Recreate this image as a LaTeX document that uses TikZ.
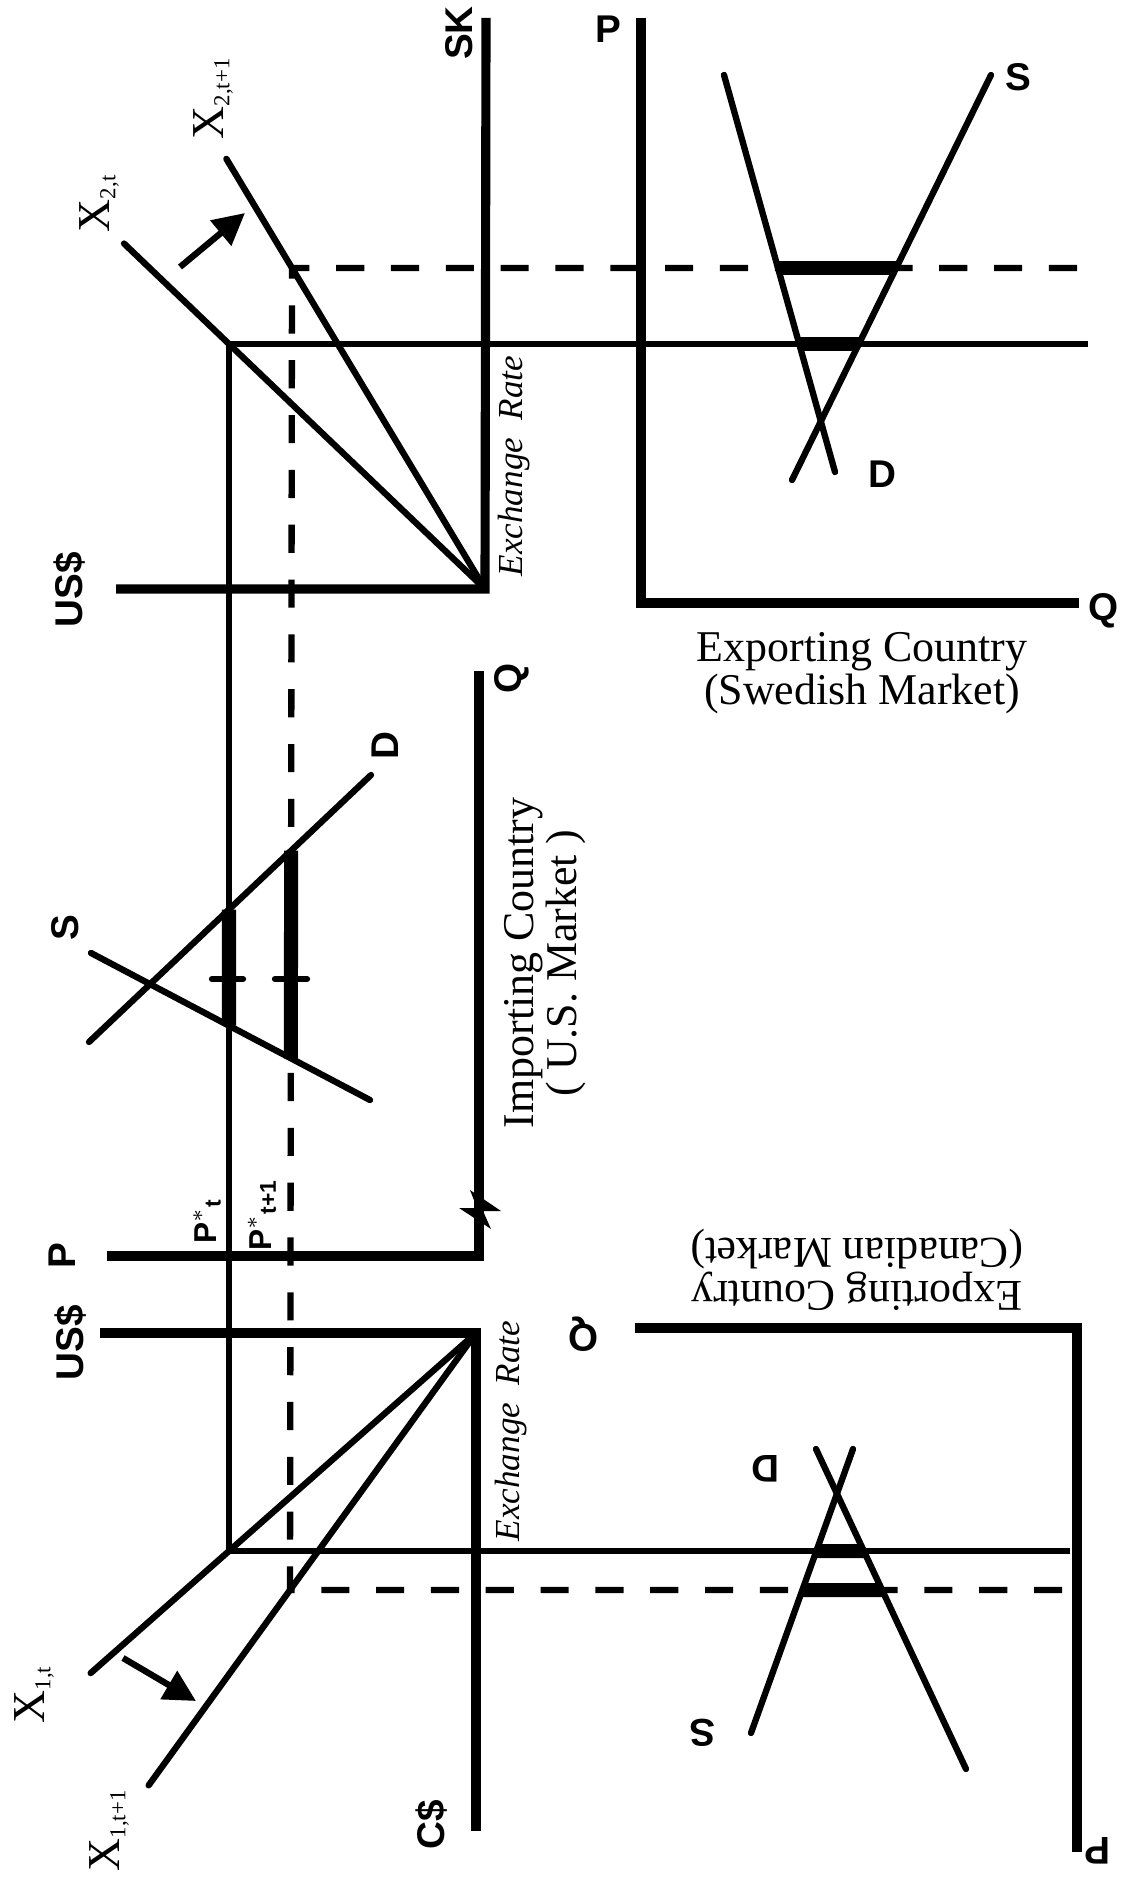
\documentclass[tikz,border=0pt]{standalone}
\usepackage{fontspec}
\setmainfont{Liberation Serif}
\setsansfont{Liberation Sans}
\usepackage{tikz}
\usetikzlibrary{arrows.meta, calc}
\tikzset{
    axis/.style={line width=2.6pt, line join=miter},
    curve/.style={line width=1.8pt, line cap=round},
    arrow/.style={line width=1.8pt, -{Triangle[length=9pt, width=9pt]}}
}
\newcommand{\lowidx}[1]{\textsubscript{\fontsize{6.5}{6.5}\selectfont #1}}

\begin{document}
\begin{tikzpicture}[x=0.1mm, y=-0.1mm,
    price/.style={line width=1.6pt, line join=miter},
    future/.style={line width=1.8pt, dash pattern=on 8pt off 7.6pt},
    gap/.style={line width=4pt},
    lab/.style={font=\sffamily\bfseries\fontsize{11}{11}\selectfont, inner sep=0pt},
    xlab/.style={font=\fontsize{13}{13}\selectfont, inner sep=0pt, rotate=90},
    rate/.style={font=\itshape\fontsize{10}{10}\selectfont, inner sep=0pt, rotate=90},
    title/.style={font=\fontsize{12.5}{11}\selectfont, align=center, inner sep=0pt}]
    \useasboundingbox (0,0) rectangle (1121,1881);

    % Origins of the two exchange rate panels
    \coordinate (oA) at (485,589);
    \coordinate (oB) at (476,1333);

    % Corners of the price lines on the rate lines
    \coordinate (ct) at (229,344);
    \coordinate (cd) at (292,268);
    \coordinate (bt) at (229,1551);
    \coordinate (bd) at (290,1590);

    % Panel 1: exchange rate US$ / SK
    \draw[axis] (486,18) -- (oA) -- (116,589);
    \draw[curve] ($(oA)!1.41!(ct)$) -- (oA);
    \draw[curve] ($(oA)!1.34!(cd)$) -- (oA);
    \node[lab, rotate=90] (usA) at (70,590) {US\$};
    \node[lab, rotate=90] (skA) at (459,33) {SK};
    \node[rate] (erA) at (514,466) {Exchange\ \ Rate};
    \node[xlab] (x2t) at (99,203) {X\lowidx{2,t}};
    \node[xlab] (x2t1) at (213,98) {X\lowidx{2,t+1}};
    \coordinate (a1) at (180,267);
    \coordinate (a2) at (245,213);
    \draw[arrow] (a1) -- (a2);

    % Panel 2: exchange rate US$ / C$
    \draw[axis] (100,1333) -- (oB) -- (476,1831);
    \draw[curve] ($(oB)!1.56!(bt)$) -- (oB);
    \draw[curve] ($(oB)!1.76!(bd)$) -- (oB);
    \node[lab, rotate=90] (usB) at (71,1343) {US\$};
    \node[lab, rotate=90] (cdB) at (432,1825) {C\$};
    \node[rate] (erB) at (511,1431) {Exchange\ \ Rate};
    \node[xlab] (x1t) at (34,1694) {X\lowidx{1,t}};
    \node[xlab] (x1t1) at (109,1830) {X\lowidx{1,t+1}};
    \coordinate (b1) at (123,1658);
    \coordinate (b2) at (196,1701);
    \draw[arrow] (b1) -- (b2);

    % Price lines P*_t and P*_{t+1}
    \draw[price] (1088,344) -- (ct) -- (bt) -- (1070,1551);
    \draw[future] (1077,268) -- (cd) -- (bd) -- (1070,1590);

    % Importing country (U.S. market)
    \draw[axis] (107,1256) -- (479,1256) -- (479,671);
    \fill (470,1190) -- (501,1211) -- (483,1211) -- (491,1229) -- (459,1208) -- (477,1208) -- cycle;
    \coordinate (uS1) at (91,953);
    \coordinate (uS2) at (370,1100);
    \coordinate (uD1) at (89,1042);
    \coordinate (uD2) at (371,775);
    \draw[curve] (uS1) -- (uS2);
    \draw[curve] (uD1) -- (uD2);
    \draw[gap] (intersection of uD1--uD2 and ct--bt) -- (intersection of uS1--uS2 and ct--bt);
    \draw[gap] (intersection of uD1--uD2 and cd--bd) -- (intersection of uS1--uS2 and cd--bd);
    \draw[curve] (212,979) -- (243,979);
    \draw[curve] (275,979) -- (307,979);
    \node[lab, rotate=90] (pU) at (62,1256) {P};
    \node[lab, rotate=90] (qU) at (512,678) {Q};
    \node[lab, rotate=90] (sU) at (65,928) {S};
    \node[lab, rotate=90] (dU) at (385,746) {D};
    \node[lab, rotate=90, font=\sffamily\bfseries\fontsize{9}{9}\selectfont] (pt) at (207,1221) {P$^{*}$\lowidx{t}};
    \node[lab, rotate=90, font=\sffamily\bfseries\fontsize{9}{9}\selectfont] (pt1) at (262,1215) {P$^{*}$\lowidx{t+1}};
    \node[title, rotate=90] (usa) at (545,963) {Importing Country\\( U.S. Market )};

    % Exporting country (Swedish market)
    \draw[axis] (641,18) -- (641,603) -- (1079,603);
    \coordinate (sD1) at (724,75);
    \coordinate (sD2) at (835,472);
    \coordinate (sS1) at (991,75);
    \coordinate (sS2) at (792,480);
    \draw[curve] (sD1) -- (sD2);
    \draw[curve] (sS1) -- (sS2);
    \draw[gap] (intersection of sD1--sD2 and 600,268--1100,268) -- (intersection of sS1--sS2 and 600,268--1100,268);
    \draw[gap] (intersection of sD1--sD2 and 600,344--1100,344) -- (intersection of sS1--sS2 and 600,344--1100,344);
    \node[lab] (pS) at (608,29) {P};
    \node[lab] (qS) at (1104,611) {Q};
    \node[lab] (sS) at (1018,77) {S};
    \node[lab] (dS) at (882,474) {D};
    \node[title] (swe) at (862,673) {Exporting Country\\(Swedish Market)};

    % Exporting country (Canadian market)
    \draw[axis] (635,1328) -- (1077,1328) -- (1077,1852);
    \coordinate (cS1) at (751,1733);
    \coordinate (cS2) at (853,1449);
    \coordinate (cD1) at (816,1449);
    \coordinate (cD2) at (966,1769);
    \draw[curve] (cS1) -- (cS2);
    \draw[curve] (cD1) -- (cD2);
    \draw[gap] (intersection of cS1--cS2 and 600,1551--1100,1551) -- (intersection of cD1--cD2 and 600,1551--1100,1551);
    \draw[gap] (intersection of cS1--cS2 and 600,1590--1100,1590) -- (intersection of cD1--cD2 and 600,1590--1100,1590);
    \node[lab, rotate=180] (qC) at (583,1334) {Q};
    \node[lab, rotate=180] (pC) at (1098,1851) {P};
    \node[lab, rotate=180] (sC) at (703,1733) {S};
    \node[lab, rotate=180] (dC) at (766,1469) {D};
    \node[title, rotate=180] (can) at (857,1270) {Exporting Country\\(Canadian Market)};
\end{tikzpicture}
\end{document}
